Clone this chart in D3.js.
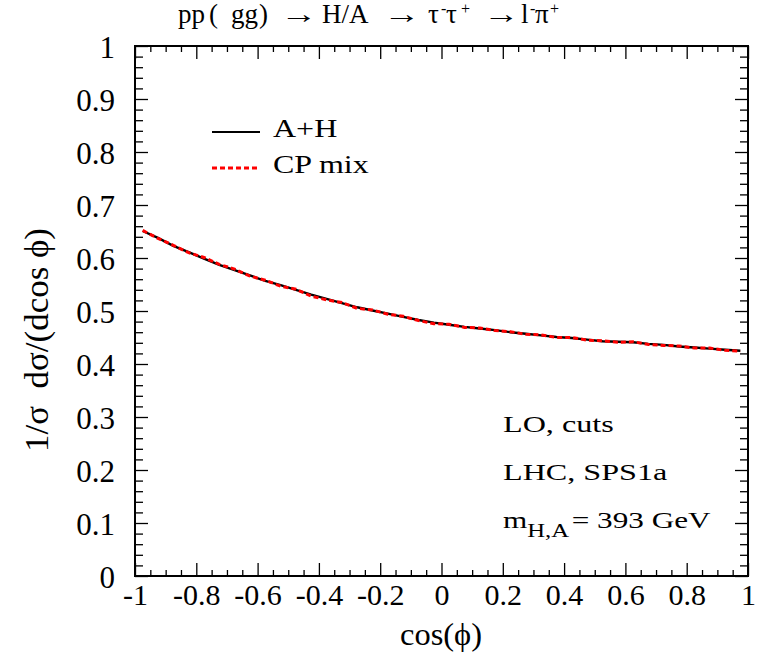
<!DOCTYPE html>
<html>
<head>
<meta charset="utf-8">
<script src="https://cdn.jsdelivr.net/npm/d3@7"></script>
<style>
  body { margin: 0; background: #fff; }
  text { font-family: "Liberation Serif", "DejaVu Serif", serif; fill: #000; }
  .axis path { display: none; }
  .axis line { stroke: #000; stroke-width: 1.3; }
  .axis text { font-family: "Liberation Serif", serif; font-size: 30px; }
</style>
</head>
<body>
<div class="graphContainer"></div>
<script>
// bin centres of cos(phi)
var cosPhi = [-0.975, -0.925, -0.875, -0.825, -0.775, -0.725, -0.675, -0.625, -0.575, -0.525,
              -0.475, -0.425, -0.375, -0.325, -0.275, -0.225, -0.175, -0.125, -0.075, -0.025,
               0.025,  0.075,  0.125,  0.175,  0.225,  0.275,  0.325,  0.375,  0.425,  0.475,
               0.525,  0.575,  0.625,  0.675,  0.725,  0.775,  0.825,  0.875,  0.925,  0.975];

var valsAH = [0.651, 0.638, 0.623, 0.611, 0.599, 0.587, 0.577, 0.567, 0.557, 0.549,
              0.540, 0.531, 0.523, 0.515, 0.507, 0.501, 0.495, 0.489, 0.483, 0.478,
              0.474, 0.470, 0.467, 0.464, 0.460, 0.457, 0.454, 0.451, 0.449, 0.446,
              0.443, 0.442, 0.441, 0.438, 0.436, 0.433, 0.431, 0.429, 0.427, 0.425];

var valsMix = [0.652, 0.637, 0.624, 0.610, 0.601, 0.588, 0.579, 0.566, 0.558, 0.547,
               0.541, 0.528, 0.521, 0.516, 0.505, 0.502, 0.494, 0.490, 0.482, 0.476,
               0.475, 0.469, 0.468, 0.463, 0.461, 0.456, 0.455, 0.450, 0.450, 0.445,
               0.444, 0.441, 0.442, 0.437, 0.435, 0.434, 0.430, 0.430, 0.426, 0.424];

var xMajor = [-1, -0.8, -0.6, -0.4, -0.2, 0, 0.2, 0.4, 0.6, 0.8, 1];
var xLabels = ["-1", "-0.8", "-0.6", "-0.4", "-0.2", "0", "0.2", "0.4", "0.6", "0.8", "1"];
var yMajor = [0, 0.1, 0.2, 0.3, 0.4, 0.5, 0.6, 0.7, 0.8, 0.9, 1];
var yLabels = ["0", "0.1", "0.2", "0.3", "0.4", "0.5", "0.6", "0.7", "0.8", "0.9", "1"];

var legendNames = ["A+H", "CP mix"];
var infoLines = ["LO, cuts", "LHC, SPS1a"];

// Set the dimensions of the canvas / graph
var margin = {top: 46, right: 16, bottom: 83, left: 135},
    width = 764 - margin.left - margin.right,
    height = 659 - margin.top - margin.bottom;

var x = d3.scaleLinear().domain([-1, 1]).range([0, width]);
var y = d3.scaleLinear().domain([0, 1]).range([height, 0]);

var root = d3.select(".graphContainer")
    .append("svg")
        .attr("width", 764)
        .attr("height", 659);
var svg = root.append("g")
        .attr("transform", "translate(" + margin.left + "," + margin.top + ")");

var xMinor = d3.range(-1, 1.0001, 0.05).filter(function(v) { return Math.abs(v * 5 - Math.round(v * 5)) > 1e-6; });
var yMinor = d3.range(0, 1.0001, 0.02).filter(function(v) { return Math.abs(v * 10 - Math.round(v * 10)) > 1e-6; });

// bottom axis
svg.append("g")
    .attr("class", "x axis")
    .attr("transform", "translate(0," + height + ")")
    .call(d3.axisBottom(x).tickValues(xMajor).tickSize(-13).tickPadding(8)
        .tickFormat(function(d, i) { return xLabels[i]; }));
svg.append("g")
    .attr("class", "x axis")
    .attr("transform", "translate(0," + height + ")")
    .call(d3.axisBottom(x).tickValues(xMinor).tickSize(-6).tickFormat(""));
// top axis (mirror)
svg.append("g").attr("class", "x axis")
    .call(d3.axisTop(x).tickValues(xMajor).tickSize(-13).tickFormat(""));
svg.append("g").attr("class", "x axis")
    .call(d3.axisTop(x).tickValues(xMinor).tickSize(-6).tickFormat(""));

// left axis
svg.append("g")
    .attr("class", "y axis")
    .call(d3.axisLeft(y).tickValues(yMajor).tickSize(-13).tickPadding(20)
        .tickFormat(function(d, i) { return yLabels[i]; }))
    .selectAll("text").attr("dy", "0.36em").style("font-size", "31px");
svg.append("g").attr("class", "y axis")
    .call(d3.axisLeft(y).tickValues(yMinor).tickSize(-8).tickFormat(""));
// right axis (mirror)
svg.append("g").attr("class", "y axis")
    .attr("transform", "translate(" + width + ",0)")
    .call(d3.axisRight(y).tickValues(yMajor).tickSize(-13).tickFormat(""));
svg.append("g").attr("class", "y axis")
    .attr("transform", "translate(" + width + ",0)")
    .call(d3.axisRight(y).tickValues(yMinor).tickSize(-8).tickFormat(""));

// frame
svg.append("rect")
    .attr("width", width).attr("height", height)
    .attr("fill", "none").attr("stroke", "#000").attr("stroke-width", 2);

// curves
var line = d3.line()
    .x(function(d) { return x(d[0]); })
    .y(function(d) { return y(d[1]); });

svg.append("path")
    .attr("d", line(d3.zip(cosPhi, valsAH)))
    .attr("fill", "none").attr("stroke", "#000").attr("stroke-width", 2.4);

svg.append("path")
    .attr("d", line(d3.zip(cosPhi, valsMix)))
    .attr("fill", "none").attr("stroke", "#ff0000").attr("stroke-width", 3)
    .attr("stroke-dasharray", "5,3");

// legend
var leg = svg.append("g").attr("transform", "translate(77,86)");
leg.append("line").attr("x1", 0).attr("x2", 48).attr("y1", 0).attr("y2", 0)
    .attr("stroke", "#000").attr("stroke-width", 2);
leg.append("line").attr("x1", 0).attr("x2", 48).attr("y1", 36).attr("y2", 36)
    .attr("stroke", "#ff0000").attr("stroke-width", 3).attr("stroke-dasharray", "5,3");
leg.selectAll("text.lg").data(legendNames).enter().append("text")
    .attr("class", "lg")
    .attr("transform", function(d, i) { return "translate(61," + (5 + i * 36) + ") scale(1.28,1)"; })
    .style("font-size", "25px")
    .text(function(d) { return d; });

// info text
svg.selectAll("text.info").data(infoLines).enter().append("text")
    .attr("class", "info")
    .attr("transform", function(d, i) { return "translate(368," + (386 + i * 48) + ") scale(1.34,1)"; })
    .style("font-size", "24px")
    .text(function(d) { return d; });
var mt = svg.append("text").attr("transform", "translate(368,482) scale(1.3,1)").style("font-size", "24px");
mt.append("tspan").text("m");
mt.append("tspan").attr("dy", 9).style("font-size", "19px").text("H,A");
mt.append("tspan").attr("dy", -9).attr("dx", 2).text("= 393 GeV");

// title, pieces placed along the top
var titleParts = [
    {t: "pp", x: 178}, {t: "(", x: 209}, {t: "gg", x: 231}, {t: ")", x: 259},
    {t: "\u2192", x: 280, w: 37}, {t: "H/A", x: 322}, {t: "\u2192", x: 383, w: 37},
    {t: "\u03c4", x: 428}, {t: "-", x: 441, sup: true}, {t: "\u03c4", x: 446}, {t: "+", x: 461, sup: true},
    {t: "\u2192", x: 483, w: 36}, {t: "l", x: 521}, {t: "-", x: 530, sup: true},
    {t: "\u03c0", x: 535}, {t: "+", x: 550, sup: true}
];
root.selectAll("text.title").data(titleParts).enter().append("text")
    .attr("class", "title")
    .attr("x", function(d) { return d.x; })
    .attr("y", function(d) { return d.sup ? 14 : 23; })
    .style("font-size", function(d) { return d.sup ? "16px" : "27px"; })
    .each(function(d) {
        if (d.w) d3.select(this).attr("textLength", d.w).attr("lengthAdjust", "spacingAndGlyphs");
    })
    .text(function(d) { return d.t; });

// axis titles
root.append("text")
    .attr("x", 441).attr("y", 645)
    .attr("text-anchor", "middle")
    .attr("textLength", 82).attr("lengthAdjust", "spacingAndGlyphs")
    .style("font-size", "31px")
    .text("cos(\u03d5)");

root.append("text")
    .attr("transform", "translate(48,340) rotate(-90)")
    .attr("text-anchor", "middle")
    .attr("xml:space", "preserve")
    .attr("textLength", 224).attr("lengthAdjust", "spacingAndGlyphs")
    .style("font-size", "33px")
    .text("1/\u03c3  d\u03c3/(dcos \u03d5)");
</script>
</body>
</html>
